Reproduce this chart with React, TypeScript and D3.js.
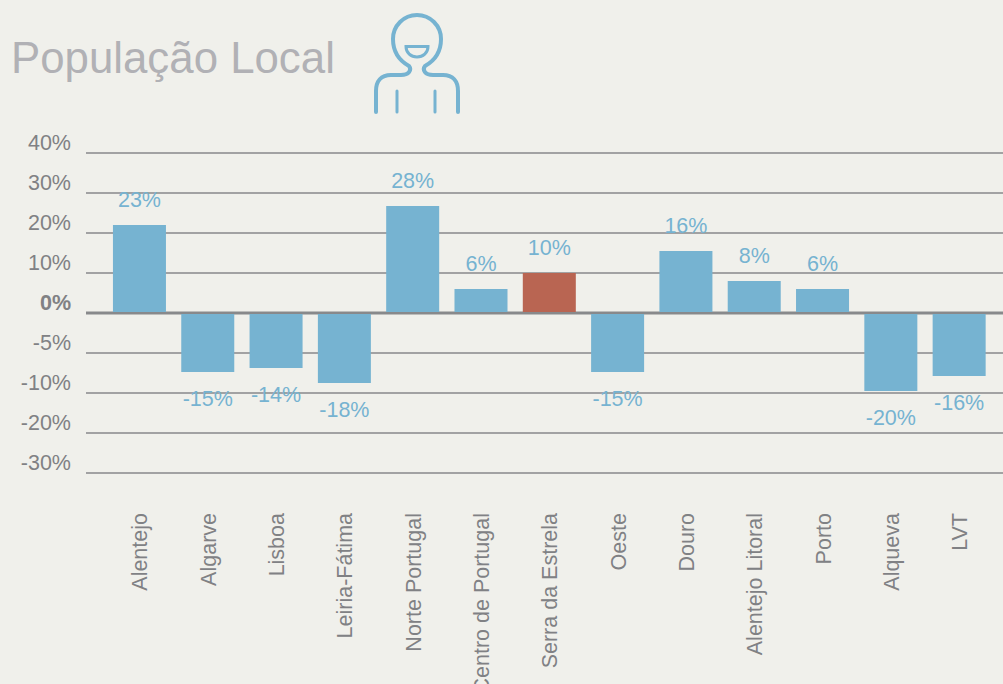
import React from 'react';
import * as d3 from 'd3';

const categories = ['Alentejo', 'Algarve', 'Lisboa', 'Leiria-Fátima', 'Norte Portugal', 'Centro de Portugal', 'Serra da Estrela', 'Oeste', 'Douro', 'Alentejo Litoral', 'Porto', 'Alqueva', 'LVT'];
// the axis is not linear with its labels, so the bars are kept in grid units (one gridline = 10)
const barValues = [22, -14.75, -13.75, -17.5, 26.75, 6, 10, -14.75, 15.5, 8, 6, -19.5, -15.75];
const barLabels = ['23%', '-15%', '-14%', '-18%', '28%', '6%', '10%', '-15%', '16%', '8%', '6%', '-20%', '-16%'];
const highlighted = 'Serra da Estrela';
const gridValues = [40, 30, 20, 10, 0, -10, -20, -30, -40];
const tickLabels = ['40%', '30%', '20%', '10%', '0%', '-5%', '-10%', '-20%', '-30%'];

const BG = '#f0f0eb';
const BLUE = '#76b3d1';
const RED = '#b96552';
const GREY = '#88898b';
const TEXT_GREY = '#808184';
const font = '"Liberation Sans", Arial, sans-serif';

export default function App() {
  const width = 1003;
  const height = 684;

  const x = d3.scaleBand<string>()
    .domain(categories)
    .range([105.3, 993.3])
    .paddingInner(0.224)
    .paddingOuter(0.112);
  const y = d3.scaleLinear().domain([-40, 40]).range([473, 153]);
  const zero = y(0);

  return (
    <svg
      width={width}
      height={height}
      style={{ position: 'absolute', left: 0, top: 0, background: BG, fontFamily: font }}
    >
      <text x={11} y={73} fontSize={43.8} fill="#b1b1b5">População Local</text>

      {/* person icon */}
      <g fill="none" stroke={BLUE} strokeWidth={4} strokeLinecap="round">
        <path d="M376 112V91C376 81 381 75 391 75H401C409 75 412 70 409 66C400 61 393 52 393 39A24 24 0 1 1 441 39C441 52 434 61 425 66C422 70 425 75 433 75H443C453 75 458 81 458 91V112" />
        <path d="M397 112V91M435 112V91" strokeWidth={3} />
        <path d="M406 46.5H428C428 53 423 57 417 57C411 57 406 53 406 46.5Z" strokeWidth={3} strokeLinecap="butt" />
      </g>

      {gridValues.map((v, i) => (
        <g key={v}>
          <line x1={86} x2={width} y1={y(v)} y2={y(v)} stroke={GREY} strokeWidth={v === 0 ? 3 : 1.5} />
          <text
            x={71}
            y={y(v) - 3}
            textAnchor="end"
            fontSize={21.5}
            fontWeight={v === 0 ? 700 : 400}
            fill={TEXT_GREY}
          >
            {tickLabels[i]}
          </text>
        </g>
      ))}

      {categories.map((c, i) => {
        const v = barValues[i];
        const px = x(c) as number;
        const top = Math.min(y(v), zero);
        const bottom = Math.max(y(v), zero);
        const cx = px + x.bandwidth() / 2;
        const labelY = v >= 0 ? top - 18 : bottom + 34;
        return (
          <g key={c}>
            <rect
              x={px}
              y={top + (v < 0 ? 1 : 0)}
              width={x.bandwidth()}
              height={bottom - top - 1}
              fill={c === highlighted ? RED : BLUE}
            />
            <text x={cx} y={labelY} textAnchor="middle" fontSize={21.5} fill={BLUE}>{barLabels[i]}</text>
            <text
              transform={`translate(${cx + 8},513) rotate(-90)`}
              textAnchor="end"
              fontSize={21.5}
              fill={TEXT_GREY}
            >
              {c}
            </text>
          </g>
        );
      })}
    </svg>
  );
}
